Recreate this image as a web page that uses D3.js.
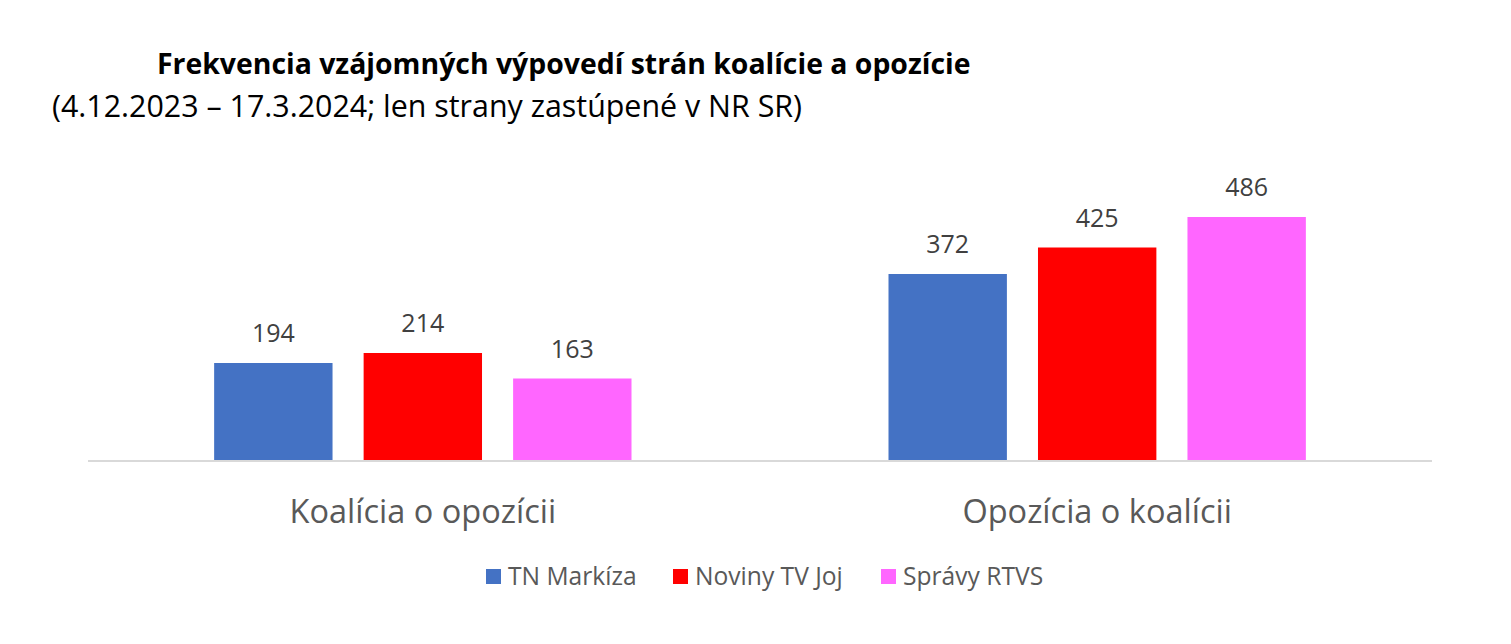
<!DOCTYPE html>
<html>
<head>
<meta charset="utf-8">
<script src="https://cdn.jsdelivr.net/npm/d3@7"></script>
<style>
  body { margin: 0; background: #fff; }
  text { font-family: "Open Sans", "Noto Sans", sans-serif; }
</style>
</head>
<body>
<div id="chart"></div>
<script>
const categories = ["Koalícia o opozícii", "Opozícia o koalícii"];
const series = ["TN Markíza", "Noviny TV Joj", "Správy RTVS"];
const colors = ["#4472C4", "#FF0000", "#FF66FF"];
const values = [
  [194, 214, 163],
  [372, 425, 486]
];

const width = 1511, height = 644;
const plot = { left: 88, right: 1432, base: 460 };

const svg = d3.select("#chart").append("svg")
  .attr("width", width)
  .attr("height", height);

// titles
svg.append("text")
  .attr("x", 157).attr("y", 74)
  .style("font-size", "28.4px").style("font-weight", "bold").attr("fill", "#000")
  .text("Frekvencia vzájomných výpovedí strán koalície a opozície");
svg.append("text")
  .attr("x", 52).attr("y", 117)
  .style("font-size", "30.4px").attr("fill", "#000")
  .text("(4.12.2023 – 17.3.2024; len strany zastúpené v NR SR)");

const x0 = d3.scaleBand()
  .domain(categories)
  .range([plot.left, plot.right])
  .paddingInner(0.335)
  .paddingOuter(0.164);

const x1 = d3.scaleBand()
  .domain(series)
  .range([0, x0.bandwidth()])
  .paddingInner(0.208)
  .paddingOuter(0.104);

const y = d3.scaleLinear()
  .domain([0, 486])
  .range([plot.base, 217]);

const groups = svg.selectAll(".group")
  .data(categories)
  .enter().append("g")
  .attr("class", "group")
  .attr("transform", d => `translate(${x0(d)},0)`);

groups.selectAll("rect")
  .data((d, i) => values[i].map((v, j) => ({ s: series[j], v: v, c: colors[j] })))
  .enter().append("rect")
  .attr("x", d => x1(d.s))
  .attr("width", x1.bandwidth())
  .attr("y", d => y(d.v))
  .attr("height", d => y(0) - y(d.v))
  .attr("fill", d => d.c);

groups.selectAll(".val")
  .data((d, i) => values[i].map((v, j) => ({ s: series[j], v: v })))
  .enter().append("text")
  .attr("class", "val")
  .attr("x", d => x1(d.s) + x1.bandwidth() / 2)
  .attr("y", d => y(d.v) - 21)
  .attr("text-anchor", "middle")
  .style("font-size", "25px")
  .attr("fill", "#404040")
  .text(d => d.v);

// baseline
svg.append("line")
  .attr("x1", plot.left).attr("x2", plot.right)
  .attr("y1", plot.base + 1).attr("y2", plot.base + 1)
  .attr("stroke", "#d9d9d9").attr("stroke-width", 2);

// category labels
svg.selectAll(".cat")
  .data(categories)
  .enter().append("text")
  .attr("class", "cat")
  .attr("x", d => x0(d) + x0.bandwidth() / 2)
  .attr("y", 523)
  .attr("text-anchor", "middle")
  .style("font-size", "32.5px")
  .attr("fill", "#595959")
  .text(d => d);

// legend
const legendX = [486, 673, 881];
const legend = svg.selectAll(".leg")
  .data(series)
  .enter().append("g")
  .attr("class", "leg")
  .attr("transform", (d, i) => `translate(${legendX[i]},569)`);
legend.append("rect")
  .attr("width", 15).attr("height", 15)
  .attr("fill", (d, i) => colors[i]);
legend.append("text")
  .attr("x", 22).attr("y", 16)
  .style("font-size", "24.6px")
  .attr("fill", "#595959")
  .text(d => d);
</script>
</body>
</html>
